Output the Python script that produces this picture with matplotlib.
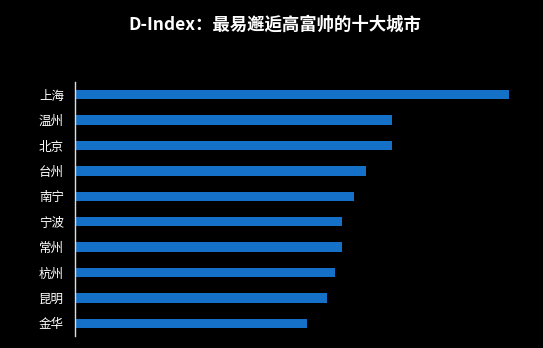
import matplotlib
matplotlib.use("Agg")
import matplotlib.pyplot as plt

plt.rcParams['font.family'] = ['Noto Sans CJK SC', 'DejaVu Sans']

cities = ["上海", "温州", "北京", "台州", "南宁", "宁波", "常州", "杭州", "昆明", "金华"]
values = [434, 317, 317, 291, 279, 267, 267, 260, 252, 232]
title = "D-Index：最易邂逅高富帅的十大城市"

W, H = 543, 348
fig = plt.figure(figsize=(W / 100, H / 100), dpi=100, facecolor="black")
ax = fig.add_axes([75 / W, 1 - 336 / H, (520 - 75) / W, (336 - 82) / H], facecolor="black")

ypos = list(range(len(cities)))
ax.barh(ypos, values, height=0.37, color="#1570c8")
ax.set_xlim(0, 445)
ax.set_ylim(len(cities) - 0.5, -0.5)
ax.set_yticks(ypos)
ax.set_yticklabels(cities, color="white", fontsize=9)
ax.tick_params(axis="y", length=0, pad=8)
ax.set_xticks([])
for s in ["top", "right", "bottom"]:
    ax.spines[s].set_visible(False)
ax.spines["left"].set_color("#dddddd")
ax.spines["left"].set_linewidth(1)

fig.text(275 / W, 1 - 25 / H, title, color="white", fontsize=12.5, fontweight="bold",
         ha="center", va="center")

fig.savefig("out.png", dpi=100, facecolor="black")
